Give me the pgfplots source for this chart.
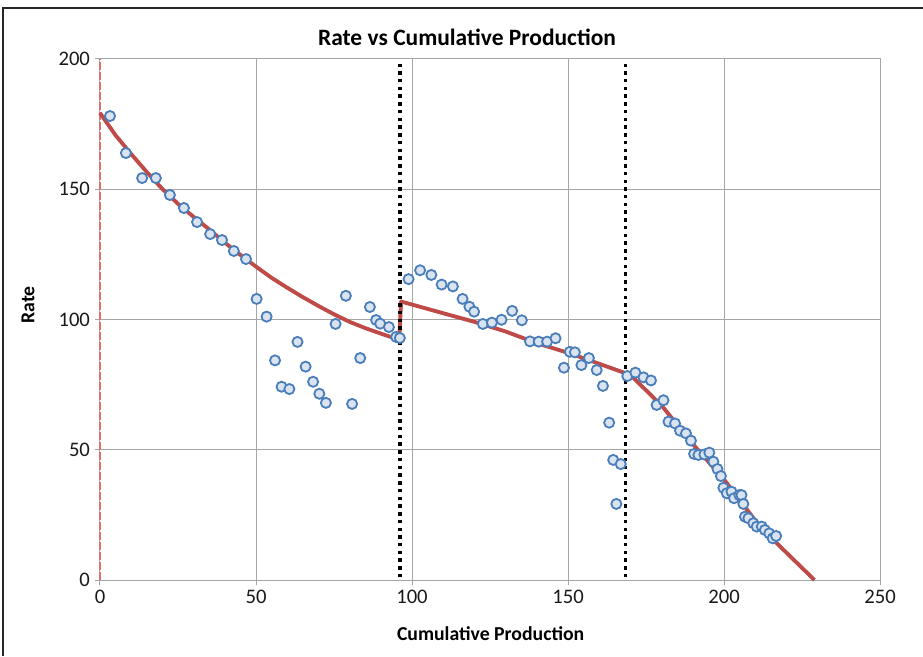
\documentclass[border=0pt]{standalone}
\usepackage{fontspec}
\setmainfont{Carlito}
\usepackage{pgfplots}
\pgfplotsset{compat=1.18}
\definecolor{mblue}{HTML}{4A7EBB}
\definecolor{mfill}{HTML}{DAE4F1}
\definecolor{mred}{HTML}{BE4B48}
\definecolor{gridc}{HTML}{A6A6A6}
\definecolor{lred}{HTML}{E07070}
\begin{document}
\begin{tikzpicture}
\path[use as bounding box] (-75pt,-57pt) rectangle (617.25pt,435pt);
\draw[black!85, line width=1.4pt] (-72.75pt,-57pt) -- (-72.75pt,429pt) -- (617.25pt,429pt);
\begin{axis}[
  at={(0pt,0pt)}, anchor=south west, scale only axis,
  width=585pt, height=390.75pt,
  xmin=0, xmax=250, ymin=0, ymax=200,
  xtick={0,50,...,250}, ytick={0,50,...,200},
  grid=major, grid style={gridc, line width=0.75pt},
  axis line style={gridc, line width=0.75pt},
  tick style={gridc, line width=0.75pt},
  tick align=outside, major tick length=4pt, tick pos=left,
  ticklabel style={font=\fontsize{15.5}{18}\selectfont, text=black!90},
  /pgf/number format/assume math mode=true,
  clip=false,
]
\addplot[lred, line width=1.3pt, dash pattern=on 6pt off 1.5pt] coordinates {(0,0) (0,200)};
\addplot[mred, line width=2.9pt, line join=round] coordinates {
(0,179.3) (5,170.7) (10,163.5) (15,156.6) (20,150.1) (25,144.4) (30,139.4) (35,134.6) (40,129.5) (45,124.8) (50,120.3) (55,116.0) (60,112.2) (65,108.6) (70,105.2) (75,102.0) (80,99.1) (85,96.7) (90,94.6) (95.9,92.2)
(96.5,106.9) (110,102.4) (120,99.1) (130,95.4) (140,90.9) (150.6,87.0) (160,83.0) (170,78.7)
(180,67.0) (190,52.2) (200,38.6) (211.5,20.5) (220,10.5) (229,0)
};
\addplot[only marks, mark=*, mark size=3.8pt, mark options={draw=mblue, fill=mfill, line width=1.35pt}] coordinates {
(3.2,178.1) (8.3,163.9) (13.5,154.3) (17.9,154.3) (22.4,147.8) (26.9,142.8) (31.1,137.4) (35.3,132.8) (39.1,130.5) (42.9,126.3) (46.8,123.2)
(50.2,107.9) (53.4,101.1) (56.1,84.3) (58.2,74.2) (60.7,73.3) (63.3,91.4) (65.9,81.9) (68.3,76.1) (70.3,71.5) (72.4,68.0) (75.5,98.3) (78.8,109.1) (80.8,67.6) (83.4,85.2) (86.5,104.8) (88.5,99.8) (89.8,98.4) (92.6,97.1) (94.9,93.3) (96.1,92.9)
(98.9,115.5) (102.6,118.9) (106.2,117.1) (109.5,113.4) (113.1,112.7) (116.2,107.9) (118.4,104.9) (119.9,103.0) (122.7,98.3) (125.6,98.8) (128.7,99.9) (132.1,103.3) (135.2,99.7) (137.8,91.6) (140.6,91.5) (143.3,91.5) (146.0,92.8) (148.7,81.5) (150.6,87.6) (152.2,87.4) (154.3,82.5) (156.7,85.2) (159.2,80.6) (161.2,74.5) (163.2,60.4) (164.5,46.1) (165.5,29.2) (166.9,44.5)
(169.0,78.3) (171.6,79.6) (174.2,77.8) (176.6,76.6) (178.4,67.2) (180.6,69.0) (182.2,60.8) (184.3,60.1) (185.9,57.3) (187.8,56.3) (189.4,53.5) (190.4,48.4) (191.8,48.0) (193.7,48.2) (195.3,48.9) (196.6,45.4) (197.9,42.6) (199.0,39.9) (199.8,35.4) (200.9,33.3) (202.4,33.9) (203.2,31.4) (204.9,32.6) (205.6,32.6) (206.2,29.2) (206.7,24.3) (207.8,23.7) (209.4,21.8) (210.5,20.5) (212.1,20.5) (213.1,19.2) (214.5,17.9) (215.6,16.0) (216.7,16.9)
};
\addplot[black, line width=2.6pt, dash pattern=on 2.6pt off 3.2pt] coordinates {(96.2,1) (96.2,198)};
\addplot[black, line width=2.6pt, dash pattern=on 2.6pt off 3.2pt] coordinates {(168.4,1) (168.4,198)};
\end{axis}
\node[font=\bfseries\fontsize{17.6}{21}\selectfont] at (275.25pt,407.25pt) {Rate vs Cumulative Production};
\node[font=\bfseries\fontsize{14.8}{18}\selectfont] at (293pt,-40.5pt) {Cumulative Production};
\node[font=\bfseries\fontsize{14.8}{18}\selectfont, rotate=90] at (-54pt,206.25pt) {Rate};
\end{tikzpicture}
\end{document}
